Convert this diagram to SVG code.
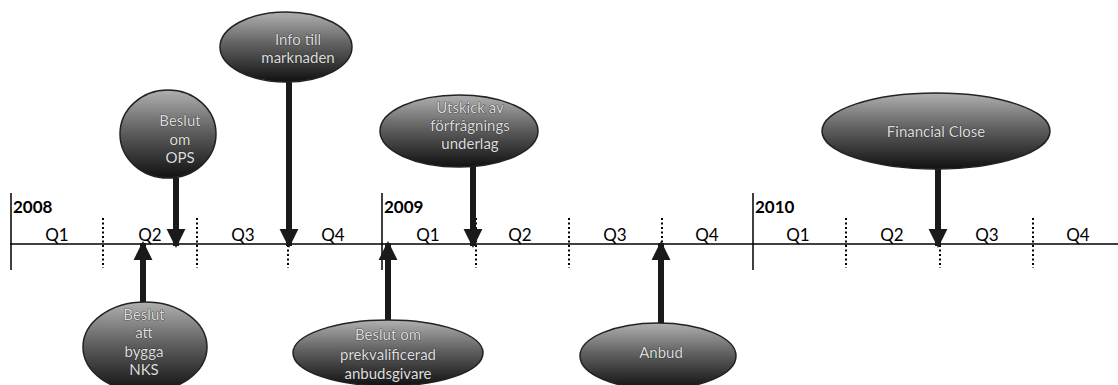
<svg xmlns="http://www.w3.org/2000/svg" width="1118" height="385" viewBox="0 0 1118 385">
<defs>
<linearGradient id="g" x1="0" y1="0" x2="0" y2="1">
<stop offset="0" stop-color="#b0b0b0"/>
<stop offset="0.45" stop-color="#626262"/>
<stop offset="1" stop-color="#111"/>
</linearGradient>
<marker id="ah" viewBox="0 0 10 10" refX="9" refY="5" markerWidth="3.2" markerHeight="3.2" orient="auto" markerUnits="strokeWidth">
<path d="M0,0 L10,5 L0,10 Z" fill="#1a1a1a"/>
</marker>
</defs>
<style>
.el{fill:url(#g);stroke:#222;stroke-width:1.5}
.lt{font-family:Lato,"Liberation Sans",sans-serif;font-size:15px;fill:#dcdcdc;stroke:#222;stroke-width:0.7;paint-order:stroke;text-anchor:middle}
.ax{stroke:#000;stroke-width:1.5;fill:none}
.dot{stroke:#000;stroke-width:2;stroke-dasharray:2 2.5;fill:none}
.q{font-family:Lato,"Liberation Sans",sans-serif;font-size:17px;fill:#000;text-anchor:middle}
.yr{font-family:Lato,"Liberation Sans",sans-serif;font-size:17px;font-weight:bold;fill:#000}
.ar{stroke:#1a1a1a;stroke-width:6;fill:none;marker-end:url(#ah)}
</style>
<g id="timeline">
<line class="ax" x1="10" y1="244" x2="1118" y2="244"/>
<line class="ax" x1="11" y1="193" x2="11" y2="270"/>
<line class="ax" x1="382" y1="193" x2="382" y2="270"/>
<line class="ax" x1="753" y1="193" x2="753" y2="270"/>
<line class="dot" x1="103" y1="218" x2="103" y2="268"/>
<line class="dot" x1="197" y1="218" x2="197" y2="268"/>
<line class="dot" x1="288" y1="218" x2="288" y2="268"/>
<line class="dot" x1="476" y1="218" x2="476" y2="268"/>
<line class="dot" x1="569" y1="218" x2="569" y2="268"/>
<line class="dot" x1="662" y1="218" x2="662" y2="268"/>
<line class="dot" x1="846" y1="218" x2="846" y2="268"/>
<line class="dot" x1="940" y1="218" x2="940" y2="268"/>
<line class="dot" x1="1033" y1="218" x2="1033" y2="268"/>
<text class="yr" x="13" y="213">2008</text>
<text class="yr" x="384" y="213">2009</text>
<text class="yr" x="755" y="213">2010</text>
<text class="q" x="57" y="241">Q1</text>
<text class="q" x="150" y="241">Q2</text>
<text class="q" x="243" y="241">Q3</text>
<text class="q" x="333" y="241">Q4</text>
<text class="q" x="428" y="241">Q1</text>
<text class="q" x="520" y="241">Q2</text>
<text class="q" x="615" y="241">Q3</text>
<text class="q" x="707" y="241">Q4</text>
<text class="q" x="798" y="241">Q1</text>
<text class="q" x="892" y="241">Q2</text>
<text class="q" x="987" y="241">Q3</text>
<text class="q" x="1078" y="241">Q4</text>
</g>
<g id="connectors">
<line class="ar" x1="176" y1="178" x2="176" y2="246"/>
<line class="ar" x1="289" y1="80" x2="289" y2="246"/>
<line class="ar" x1="473" y1="165" x2="473" y2="246"/>
<line class="ar" x1="938" y1="168" x2="938" y2="246"/>
<line class="ar" x1="143" y1="304" x2="143" y2="243"/>
<line class="ar" x1="388" y1="322" x2="388" y2="243"/>
<line class="ar" x1="661" y1="325" x2="661" y2="243"/>
</g>
<g id="n-ops">
<ellipse class="el" cx="168" cy="134" rx="48" ry="44"/>
<text class="lt" x="180" y="126">Beslut</text>
<text class="lt" x="180" y="145">om</text>
<text class="lt" x="180" y="163">OPS</text>
</g>
<g id="n-info">
<ellipse class="el" cx="286" cy="47" rx="66" ry="35"/>
<text class="lt" x="298" y="45">Info till</text>
<text class="lt" x="298" y="63">marknaden</text>
</g>
<g id="n-utskick">
<ellipse class="el" cx="459" cy="131" rx="79" ry="36"/>
<text class="lt" x="470" y="113">Utskick av</text>
<text class="lt" x="470" y="131">förfrågnings</text>
<text class="lt" x="470" y="149">underlag</text>
</g>
<g id="n-financial">
<ellipse class="el" cx="936" cy="131" rx="114" ry="38"/>
<text class="lt" x="936" y="137">Financial Close</text>
</g>
<g id="n-nks">
<ellipse class="el" cx="145" cy="347" rx="62" ry="45"/>
<text class="lt" x="144" y="320">Beslut</text>
<text class="lt" x="144" y="338">att</text>
<text class="lt" x="144" y="357">bygga</text>
<text class="lt" x="144" y="375">NKS</text>
</g>
<g id="n-prekval">
<ellipse class="el" cx="388" cy="353" rx="95" ry="33"/>
<text class="lt" x="388" y="340">Beslut om</text>
<text class="lt" x="388" y="360">prekvalificerad</text>
<text class="lt" x="388" y="379">anbudsgivare</text>
</g>
<g id="n-anbud">
<ellipse class="el" cx="658" cy="356" rx="78" ry="33"/>
<text class="lt" x="661" y="358">Anbud</text>
</g>
</svg>
